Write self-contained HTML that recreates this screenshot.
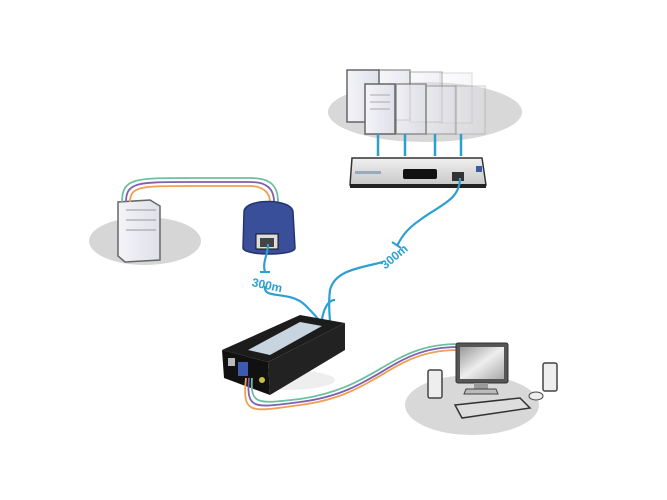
<!DOCTYPE html>
<html><head><meta charset="utf-8"><style>body{margin:0;background:#fff}svg{display:block}</style></head>
<body>
<svg width="667" height="500" viewBox="0 0 667 500" xmlns="http://www.w3.org/2000/svg" font-family="Liberation Sans, sans-serif">
<defs>
<linearGradient id="gr" x1="0" y1="0" x2="0" y2="1"><stop offset="0" stop-color="#e6e6e6"/><stop offset="1" stop-color="#d2d2d2"/></linearGradient>
<linearGradient id="sv" x1="0" y1="0" x2="1" y2="0"><stop offset="0" stop-color="#f4f4f8"/><stop offset="1" stop-color="#dfe0ea"/></linearGradient>
<linearGradient id="sw" x1="0" y1="0" x2="0" y2="1"><stop offset="0" stop-color="#f0f0f0"/><stop offset="1" stop-color="#c8c8c8"/></linearGradient>
<linearGradient id="mon" x1="0" y1="0" x2="1" y2="1"><stop offset="0" stop-color="#999"/><stop offset="0.5" stop-color="#eee"/><stop offset="1" stop-color="#aaa"/></linearGradient>
</defs>
<!-- shadows -->
<ellipse cx="145" cy="241" rx="56" ry="24" fill="#d6d6d6"/>
<ellipse cx="425" cy="112" rx="97" ry="30" fill="#d8d8d8"/>
<ellipse cx="472" cy="405" rx="67" ry="30" fill="#d8d8d8"/>
<ellipse cx="285" cy="380" rx="50" ry="10" fill="#eee"/>
<!-- servers top right -->
<g stroke-width="1.5">
<g opacity="0.25"><rect x="440" y="73" width="32" height="50" fill="url(#sv)" stroke="#999"/></g>
<g opacity="0.45"><rect x="410" y="72" width="32" height="50" fill="url(#sv)" stroke="#888"/></g>
<g opacity="0.7"><rect x="378" y="70" width="32" height="50" fill="url(#sv)" stroke="#777"/></g>
<rect x="347" y="70" width="32" height="52" fill="url(#sv)" stroke="#666"/>
<g opacity="0.3"><rect x="455" y="86" width="30" height="48" fill="url(#sv)" stroke="#999"/></g>
<g opacity="0.5"><rect x="426" y="86" width="30" height="48" fill="url(#sv)" stroke="#888"/></g>
<g opacity="0.75"><rect x="396" y="84" width="30" height="50" fill="url(#sv)" stroke="#777"/></g>
<rect x="365" y="84" width="30" height="50" fill="url(#sv)" stroke="#666"/>
</g>
<g stroke="#aaa"><line x1="370" y1="95" x2="390" y2="95"/><line x1="370" y1="102" x2="390" y2="102"/><line x1="370" y1="109" x2="390" y2="109"/></g>
<!-- server to switch links -->
<g stroke="#2aa0cc" stroke-width="2.5"><line x1="378" y1="134" x2="378" y2="156"/><line x1="405" y1="134" x2="405" y2="156"/><line x1="435" y1="134" x2="435" y2="156"/><line x1="461" y1="134" x2="461" y2="156"/></g>
<!-- switch -->
<path d="M352 158 L482 158 L486 185 L350 185 Z" fill="url(#sw)" stroke="#333" stroke-width="1.5"/>
<rect x="350" y="184" width="136" height="4" fill="#222"/>
<rect x="403" y="169" width="34" height="10" rx="2" fill="#111"/>
<rect x="452" y="172" width="12" height="9" fill="#333"/>
<rect x="355" y="171" width="26" height="3" fill="#9ab"/>
<rect x="476" y="166" width="6" height="6" fill="#3a5aa8"/>
<!-- left server -->
<path d="M118 202 L150 200 L160 206 L160 260 L125 262 L118 256 Z" fill="url(#sv)" stroke="#666" stroke-width="1.5"/>
<line x1="126" y1="210" x2="156" y2="210" stroke="#999"/><line x1="126" y1="220" x2="156" y2="220" stroke="#999"/><line x1="126" y1="230" x2="156" y2="230" stroke="#999"/>
<!-- colored cables left -->
<g fill="none" stroke-width="1.8">
<path d="M122 202 C122 178 135 178 190 178 L250 178 C270 178 278 185 278 202" stroke="#6cc0a0"/>
<path d="M126 202 C126 182 138 182 190 182 L250 182 C266 182 274 188 274 202" stroke="#8060b0"/>
<path d="M130 202 C130 186 142 186 190 186 L250 186 C262 186 270 192 270 202" stroke="#f0a050"/>
</g>
<!-- dongle -->
<path d="M244 212 C244 198 292 198 293 212 L295 248 C295 256 244 256 243 248 Z" fill="#3a4f9a" stroke="#26346e" stroke-width="1.5"/>
<rect x="256" y="234" width="22" height="15" fill="#ddd" stroke="#111"/>
<rect x="260" y="238" width="14" height="9" fill="#444"/>
<!-- blue cables -->
<g fill="none" stroke="#2d9fd0" stroke-width="2.2">
<path d="M268 244 C268 255 262 262 265 272"/>
<path d="M265 286 C262 300 290 290 305 305 C318 318 320 320 322 330"/>
<path d="M460 178 C460 200 440 205 420 220 C405 230 400 240 397 246"/>
<path d="M383 262 C360 268 335 270 330 290 C328 305 330 318 330 322"/>
<path d="M322 330 C320 320 325 300 335 300"/>
</g>
<g stroke="#2d9fd0" stroke-width="2"><line x1="260" y1="272" x2="270" y2="272"/><line x1="392" y1="242" x2="401" y2="248"/></g>
<text x="252" y="289" font-size="12" font-weight="bold" fill="#2d9fd0" transform="rotate(12 266 284)">300m</text>
<text x="378" y="262" font-size="12" font-weight="bold" fill="#2d9fd0" transform="rotate(-40 392 256)">300m</text>
<!-- X200 box -->
<path d="M222 350 L300 315 L345 323 L268 362 Z" fill="#1c1c1c"/>
<path d="M248 350 L300 322 L322 326 L270 355 Z" fill="#c8d4e0"/>
<path d="M222 350 L268 362 L270 395 L224 378 Z" fill="#111"/>
<path d="M268 362 L345 323 L345 350 L270 395 Z" fill="#222"/>
<rect x="238" y="362" width="10" height="14" fill="#3d5ab0"/>
<rect x="228" y="358" width="7" height="8" fill="#bbb"/>
<circle cx="262" cy="380" r="3" fill="#c8c040"/>
<!-- colored cables right -->
<g fill="none" stroke-width="1.8">
<path d="M246 378 C242 415 250 412 300 405 C380 395 390 350 458 350" stroke="#f0a050"/>
<path d="M249 378 C246 410 254 408 300 402 C380 392 390 347 458 347" stroke="#8060b0"/>
<path d="M252 378 C250 405 258 404 300 399 C378 388 390 344 458 344" stroke="#6cc0a0"/>
</g>
<!-- monitor -->
<rect x="456" y="343" width="52" height="40" rx="2" fill="#555" stroke="#333"/>
<rect x="460" y="347" width="44" height="32" fill="url(#mon)"/>
<rect x="474" y="383" width="14" height="6" fill="#999"/>
<path d="M466 389 L496 389 L498 394 L464 394 Z" fill="#bbb" stroke="#444"/>
<path d="M455 405 L520 398 L530 408 L462 418 Z" fill="#ddd" stroke="#333" stroke-width="1.5"/>
<ellipse cx="536" cy="396" rx="7" ry="4" fill="#eee" stroke="#444"/>
<rect x="428" y="370" width="14" height="28" rx="2" fill="#eee" stroke="#444" stroke-width="1.5"/>
<rect x="543" y="363" width="14" height="28" rx="2" fill="#eee" stroke="#444" stroke-width="1.5"/>
</svg>
</body></html>
